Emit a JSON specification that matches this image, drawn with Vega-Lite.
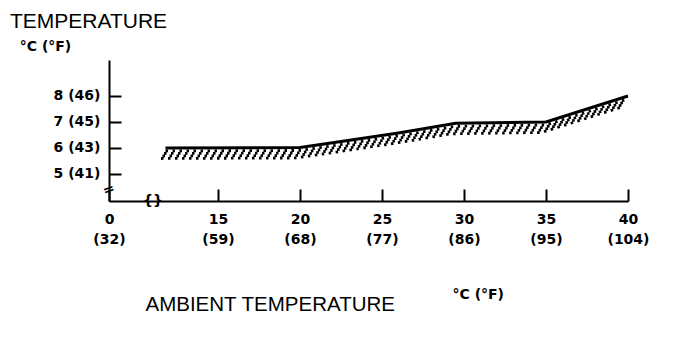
{
  "$schema": "https://vega.github.io/schema/vega-lite/v6.json",
  "autosize": "none",
  "width": 519,
  "height": 141,
  "padding": {"left": 109, "top": 60, "right": 60, "bottom": 141},
  "background": "white",
  "title": {
    "text": "TEMPERATURE",
    "subtitle": "\u200b\u00a0\u00a0°C (°F)",
    "anchor": "start",
    "frame": "group",
    "dx": -99,
    "offset": 6,
    "font": "Liberation Sans",
    "fontSize": 21,
    "fontWeight": "normal",
    "color": "black",
    "subtitleFont": "DejaVu Sans",
    "subtitleFontSize": 14,
    "subtitleFontWeight": "bold",
    "subtitleColor": "black",
    "subtitlePadding": 8
  },
  "config": {
    "view": {"stroke": null},
    "axis": {
      "domainColor": "black",
      "domainWidth": 2,
      "tickColor": "black",
      "tickWidth": 2,
      "tickSize": -12,
      "grid": false,
      "labelFont": "DejaVu Sans",
      "labelFontSize": 14,
      "labelFontWeight": "bold",
      "labelColor": "black",
      "labelFlush": false,
      "labelOverlap": false
    }
  },
  "datasets": {
    "curve": [
      {"c": 11.8, "t": 6.0},
      {"c": 20.0, "t": 6.02},
      {"c": 22.3, "t": 6.23},
      {"c": 26.0, "t": 6.58},
      {"c": 29.5, "t": 6.95},
      {"c": 35.0, "t": 7.0},
      {"c": 40.0, "t": 8.0}
    ],
    "xbreak": [{"c": 11.04, "t": 3.96, "s": "{}"}],
    "ybreak": [{"c": 8.354, "t": 4.38, "s": "="}]
  },
  "layer": [
    {
      "data": {"name": "curve"},
      "mark": {"type": "line", "color": "black", "strokeWidth": 2.8, "strokeDash": [2.5, 4.5], "yOffset": 3, "xOffset": 0, "strokeCap": "butt"},
      "encoding": {
        "x": {
          "field": "c", "type": "quantitative",
          "scale": {"domain": [8.354, 40], "nice": false, "zero": false},
          "axis": {
            "values": [8.354, 15, 20, 25, 30, 35, 40],
            "labelPadding": 23,
            "labelLineHeight": 20,
            "labelExpr": "datum.value < 10 ? ['0', '(32)'] : [format(datum.value, 'd'), '(' + round(datum.value * 9 / 5 + 32) + ')']",
            "title": "AMBIENT TEMPERATURE",
            "titleFont": "Liberation Sans",
            "titleFontSize": 20.5,
            "titleFontWeight": "normal",
            "titleColor": "black",
            "titleAlign": "left",
            "titleAnchor": "start",
            "titleBaseline": "alphabetic",
            "titleX": 36,
            "titleY": 109
          }
        },
        "y": {
          "field": "t", "type": "quantitative",
          "scale": {"domain": [3.96, 9.385], "nice": false, "zero": false},
          "axis": {
            "values": [5, 6, 7, 8],
            "labelPadding": 21,
            "labelExpr": "format(datum.value, 'd') + ' (' + round(datum.value * 9 / 5 + 32) + ')'",
            "title": "°C  (°F)",
            "titleAngle": 0,
            "titleFont": "DejaVu Sans",
            "titleFontSize": 14,
            "titleFontWeight": "bold",
            "titleColor": "black",
            "titleAlign": "left",
            "titleBaseline": "alphabetic",
            "titleX": 343,
            "titleY": 238
          }
        }
      }
    },
    {
      "data": {"name": "curve"},
      "mark": {"type": "line", "color": "black", "strokeWidth": 2.8, "strokeDash": [2.5, 4.5], "yOffset": 5.5, "xOffset": -1.5, "strokeCap": "butt"},
      "encoding": {"x": {"field": "c", "type": "quantitative"}, "y": {"field": "t", "type": "quantitative"}}
    },
    {
      "data": {"name": "curve"},
      "mark": {"type": "line", "color": "black", "strokeWidth": 2.8, "strokeDash": [2.5, 4.5], "yOffset": 8, "xOffset": -3, "strokeCap": "butt"},
      "encoding": {"x": {"field": "c", "type": "quantitative"}, "y": {"field": "t", "type": "quantitative"}}
    },
    {
      "data": {"name": "curve"},
      "mark": {"type": "line", "color": "black", "strokeWidth": 2.8, "strokeDash": [2.5, 4.5], "yOffset": 10.5, "xOffset": -4.5, "strokeCap": "butt"},
      "encoding": {"x": {"field": "c", "type": "quantitative"}, "y": {"field": "t", "type": "quantitative"}}
    },
    {
      "data": {"name": "curve"},
      "mark": {"type": "line", "color": "black", "strokeWidth": 3},
      "encoding": {"x": {"field": "c", "type": "quantitative"}, "y": {"field": "t", "type": "quantitative"}}
    },
    {
      "data": {"name": "xbreak"},
      "mark": {"type": "text", "font": "DejaVu Sans", "fontSize": 14, "fontWeight": "bold", "color": "black", "baseline": "middle", "align": "center"},
      "encoding": {
        "x": {"field": "c", "type": "quantitative"},
        "y": {"field": "t", "type": "quantitative"},
        "text": {"field": "s"}
      }
    },
    {
      "data": {"name": "ybreak"},
      "mark": {"type": "text", "font": "DejaVu Sans", "fontSize": 14, "fontWeight": "bold", "color": "black", "baseline": "middle", "align": "center", "angle": -20},
      "encoding": {
        "x": {"field": "c", "type": "quantitative"},
        "y": {"field": "t", "type": "quantitative"},
        "text": {"field": "s"}
      }
    }
  ]
}
